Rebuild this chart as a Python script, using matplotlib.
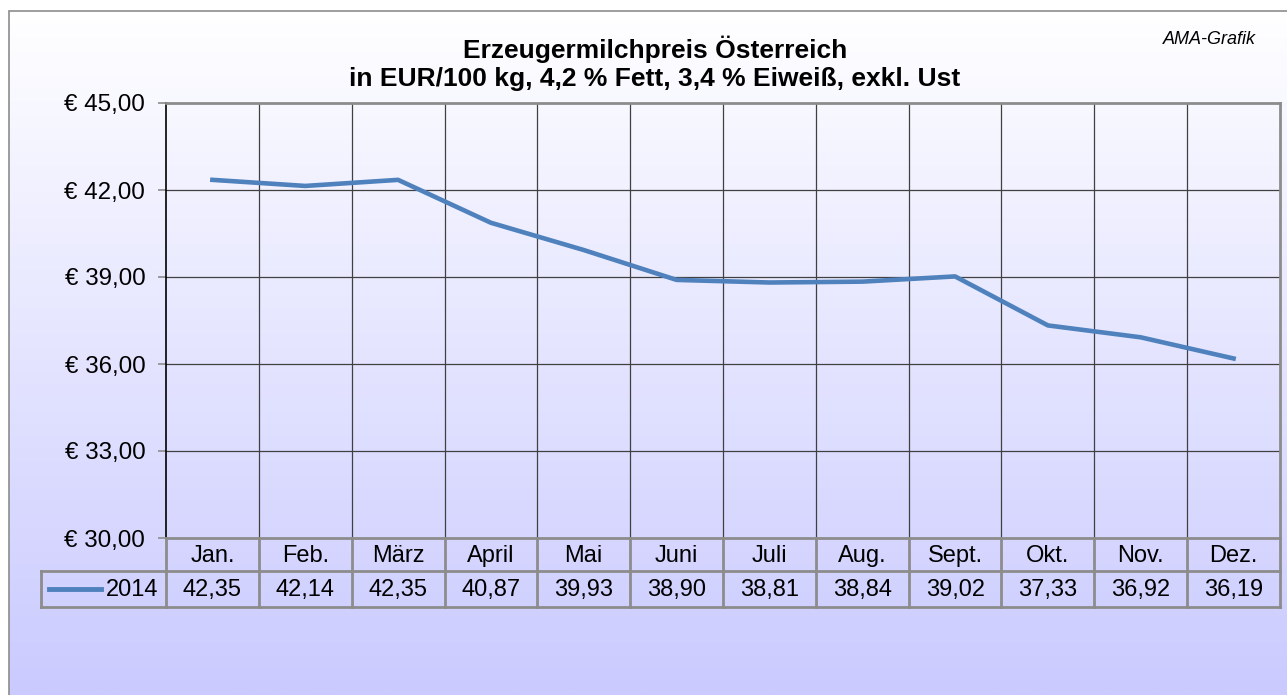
import numpy as np
import matplotlib.pyplot as plt
from matplotlib.transforms import blended_transform_factory
from matplotlib.patches import Rectangle

# data
months = ["Jan.", "Feb.", "März", "April", "Mai", "Juni", "Juli", "Aug.",
          "Sept.", "Okt.", "Nov.", "Dez."]
prices_2014 = [42.35, 42.14, 42.35, 40.87, 39.93, 38.90, 38.81, 38.84,
               39.02, 37.33, 36.92, 36.19]
y_ticks = [30, 33, 36, 39, 42, 45]
series_label = "2014"
title = "Erzeugermilchpreis Österreich\nin EUR/100 kg, 4,2 % Fett, 3,4 % Eiweiß, exkl. Ust"

plt.rcParams['font.family'] = ['Liberation Sans', 'DejaVu Sans']

W, H = 1287, 695
fig = plt.figure(figsize=(W / 100, H / 100), dpi=100)
fig.patch.set_facecolor('white')

# gradient background inside the chart frame
bg = fig.add_axes([9 / W, 0, 1 - 9 / W, (H - 11) / H], zorder=0)
t = np.linspace(0, 1, 256)[:, None, None]
top = np.array([1.0, 1.0, 1.0])
bottom = np.array([202, 202, 255]) / 255
bg.imshow(top + (bottom - top) * t, aspect='auto', extent=[0, 1, 0, 1])
bg.set_xlim(0, 1)
bg.set_ylim(0, 1)
bg.set_axis_off()
fig.add_artist(Rectangle((9 / W, -0.05), 1.1, (H - 11) / H + 0.05,
                         transform=fig.transFigure, fill=False,
                         edgecolor='#8c8c8c', lw=1.2, zorder=1))

# plot area
ax = fig.add_axes([166 / W, 1 - 538 / H, (1280 - 166) / W, (538 - 103) / H],
                  zorder=2, facecolor='none')
x = np.arange(len(months))
ax.set_xlim(-0.5, len(months) - 0.5)
ax.set_ylim(30, 45)

grid_c = '#404040'
for b in np.arange(0.5, len(months) - 0.5):
    ax.axvline(b, color=grid_c, lw=0.9, zorder=1)
for v in y_ticks[1:-1]:
    ax.axhline(v, color=grid_c, lw=0.9, zorder=1)

ax.plot(x, prices_2014, color='#4F81BD', lw=3.3, zorder=3)

ax.set_xticks([])
ax.set_yticks(y_ticks)
ax.set_yticklabels([("€ %.2f" % v).replace('.', ',') for v in y_ticks], fontsize=17.4)
ax.tick_params(axis='y', length=6, width=1.2, color='#8c8c8c', pad=9)

border_c = '#8c8c8c'
for s in ['top', 'right', 'bottom']:
    ax.spines[s].set_color(border_c)
    ax.spines[s].set_linewidth(2)
ax.spines['left'].set_color('black')
ax.spines['left'].set_linewidth(1.2)

# data table under the plot
tr = blended_transform_factory(ax.transData, ax.transAxes)
ph = 538 - 103
r1 = -(571 - 538) / ph
r2 = -(607 - 538) / ph
xl = -0.5 - (166 - 41) / 92.83
xr = len(months) - 0.5
kw = dict(transform=tr, color=border_c, lw=2, clip_on=False, zorder=4)
ax.plot([-0.5, xr], [r1, r1], **kw)
ax.plot([xl, xr], [r2, r2], **kw)
ax.plot([xl, -0.5], [r1, r1], **kw)
ax.plot([xl, xl], [r1, r2], **kw)
for b in np.arange(-0.5, len(months)):
    ax.plot([b, b], [0, r2], **kw)

for i, (m, p) in enumerate(zip(months, prices_2014)):
    ax.text(i, r1 / 2 - 0.004, m, transform=tr, ha='center', va='center', fontsize=17)
    ax.text(i, (r1 + r2) / 2 - 0.002, ("%.2f" % p).replace('.', ','), transform=tr,
            ha='center', va='center', fontsize=17)

ax.plot([-0.5 - 117 / 92.83, -0.5 - 65 / 92.83], [(r1 + r2) / 2] * 2,
        transform=tr, color='#4F81BD', lw=3.5, clip_on=False, zorder=5)
ax.text(-0.5 - 8 / 92.83, (r1 + r2) / 2 - 0.002, series_label, transform=tr,
        ha='right', va='center', fontsize=17)

# titles
fig.text(655 / W, 1 - 63 / H, title, ha='center', va='center', fontsize=19,
         fontweight='bold', linespacing=1.2)
fig.text(1209 / W, 1 - 40 / H, "AMA-Grafik", ha='center', va='center',
         fontsize=13, style='italic')

fig.savefig('out.png', dpi=100)
